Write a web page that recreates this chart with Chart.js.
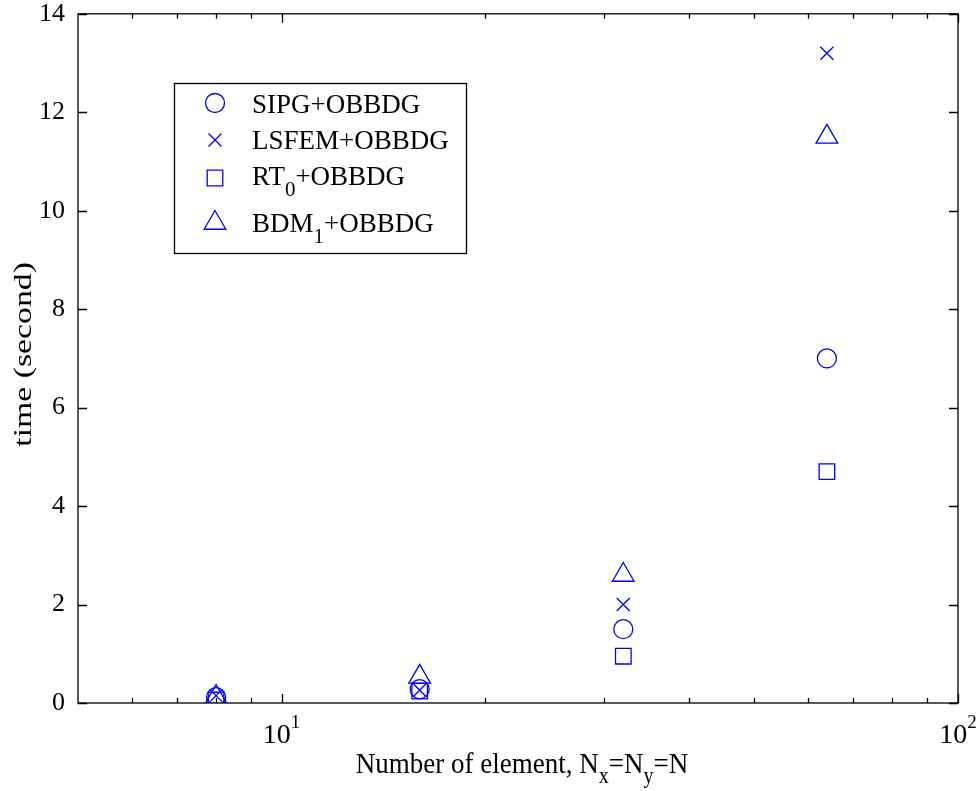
<!DOCTYPE html>
<html lang="en">
  <head>
    <meta charset="UTF-8" />
    <title>time vs number of element</title>
    <script src="https://cdn.jsdelivr.net/npm/chart.js"></script>
    <style>
      body {
        margin: 0;
        background: #ffffff;
      }
      #wrap {
        width: 978px;
        height: 791px;
      }
    </style>
  </head>
  <body>
    <div id="wrap"><canvas id="timeChart" width="978" height="791"></canvas></div>

    <script>
      // data
      const nElem = [8, 16, 32, 64];
      const sipg = [0.12, 0.28, 1.5, 7.0];
      const lsfem = [0.15, 0.26, 2.0, 13.2];
      const rt0 = [0.06, 0.24, 0.95, 4.7];
      const bdm1 = [0.12, 0.53, 2.6, 11.5];
      const yTicks = [0, 2, 4, 6, 8, 10, 12, 14];
      const xMajor = [10, 100];
      const xMinor = [6, 7, 8, 9, 20, 30, 40, 50, 60, 70, 80, 90];

      const FONT = "'Liberation Serif', 'DejaVu Serif', serif";
      const BLUE = "#0000ff";

      function pts(vals) {
        return nElem.map((n, i) => ({ x: n, y: vals[i] }));
      }

      const legendRows = [
        { main: "SIPG", sub: "", rest: "+OBBDG", ds: 0, my: 103, by: 113 },
        { main: "LSFEM", sub: "", rest: "+OBBDG", ds: 1, my: 140, by: 149 },
        { main: "RT", sub: "0", rest: "+OBBDG", ds: 2, my: 178, by: 185 },
        { main: "BDM", sub: "1", rest: "+OBBDG", ds: 3, my: 223, by: 232 },
      ];

      // text with sub/superscripts; parts: {t, size, dy}
      function richText(ctx, parts, x, y, sx, sy, measureOnly) {
        let cx = 0;
        ctx.save();
        ctx.translate(x, y);
        ctx.scale(sx, sy);
        parts.forEach((p) => {
          ctx.font = p.size + "px " + FONT;
          if (!measureOnly) ctx.fillText(p.t, cx, p.dy || 0);
          cx += ctx.measureText(p.t).width;
        });
        ctx.restore();
        return cx * sx;
      }

      const matlabBox = {
        id: "matlabBox",
        afterDraw(chart) {
          const ctx = chart.ctx;
          const a = chart.chartArea;
          const xs = chart.scales.x;
          const ys = chart.scales.y;
          ctx.save();
          ctx.strokeStyle = "#000";
          ctx.fillStyle = "#000";
          ctx.lineWidth = 1.3;
          ctx.strokeRect(a.left, a.top, a.right - a.left, a.bottom - a.top);

          ctx.beginPath();
          yTicks.forEach((v) => {
            const py = Math.round(ys.getPixelForValue(v)) + 0.5;
            ctx.moveTo(a.left, py);
            ctx.lineTo(a.left + 9, py);
            ctx.moveTo(a.right, py);
            ctx.lineTo(a.right - 9, py);
          });
          xMajor.forEach((v) => {
            const px = Math.round(xs.getPixelForValue(v)) + 0.5;
            ctx.moveTo(px, a.bottom);
            ctx.lineTo(px, a.bottom - 9);
            ctx.moveTo(px, a.top);
            ctx.lineTo(px, a.top + 9);
          });
          xMinor.forEach((v) => {
            const px = Math.round(xs.getPixelForValue(v)) + 0.5;
            ctx.moveTo(px, a.bottom);
            ctx.lineTo(px, a.bottom - 5);
            ctx.moveTo(px, a.top);
            ctx.lineTo(px, a.top + 5);
          });
          ctx.stroke();

          ctx.textAlign = "left";
          ctx.textBaseline = "alphabetic";

          // x tick labels 10^1, 10^2
          xMajor.forEach((v) => {
            const exp = String(Math.round(Math.log10(v)));
            const parts = [
              { t: "10", size: 28 },
              { t: exp, size: 19, dy: -15 },
            ];
            const w = richText(ctx, parts, 0, 0, 1, 1, true);
            const px = xs.getPixelForValue(v);
            richText(ctx, parts, px - w / 2, 743, 1, 1, false);
          });

          // x axis title
          const title = [
            { t: "Number of element, N", size: 27 },
            { t: "x", size: 20, dy: 9 },
            { t: "=N", size: 27 },
            { t: "y", size: 20, dy: 9 },
            { t: "=N", size: 27 },
          ];
          const tw = richText(ctx, title, 0, 0, 1, 1.12, true);
          richText(ctx, title, (a.left + a.right) / 2 - tw / 2 + 4, 773, 1, 1.12, false);

          // y axis title, stretched along its length like the original
          ctx.save();
          ctx.translate(24, (a.top + a.bottom) / 2 - 4);
          ctx.rotate(-Math.PI / 2);
          ctx.scale(1.35, 1);
          ctx.font = "25px " + FONT;
          ctx.textAlign = "center";
          ctx.textBaseline = "middle";
          ctx.fillText("time (second)", 0, 0);
          ctx.restore();

          // legend
          const lx = 174, ly = 83, lw = 292, lh = 170;
          ctx.fillStyle = "#fff";
          ctx.fillRect(lx, ly, lw, lh);
          ctx.strokeStyle = "#000";
          ctx.lineWidth = 1.3;
          ctx.strokeRect(lx + 0.5, ly + 0.5, lw, lh);
          legendRows.forEach((r) => {
            const ds = chart.data.datasets[r.ds];
            ctx.fillStyle = "rgba(0,0,0,0)";
            ctx.strokeStyle = BLUE;
            ctx.lineWidth = ds.pointBorderWidth;
            Chart.helpers.drawPoint(
              ctx,
              {
                pointStyle: ds.pointStyle,
                radius: ds.pointRadius,
                borderWidth: ds.pointBorderWidth,
              },
              215,
              r.my
            );
            ctx.fillStyle = "#000";
            const parts = [{ t: r.main, size: 27 }];
            if (r.sub) parts.push({ t: r.sub, size: 21, dy: 11 });
            parts.push({ t: r.rest, size: 27 });
            richText(ctx, parts, 252, r.by, 1, 1, false);
          });
          ctx.restore();
        },
      };

      function series(label, vals, style, r) {
        return {
          label: label,
          data: pts(vals),
          showLine: false,
          pointStyle: style,
          pointRadius: r,
          pointHoverRadius: r,
          pointBorderWidth: 1.3,
          borderColor: BLUE,
          backgroundColor: "rgba(0,0,0,0)",
        };
      }

      new Chart(document.getElementById("timeChart"), {
        type: "scatter",
        data: {
          datasets: [
            series("SIPG+OBBDG", sipg, "circle", 9.5),
            series("LSFEM+OBBDG", lsfem, "crossRot", 9.2),
            series("RT0+OBBDG", rt0, "rect", 11),
            series("BDM1+OBBDG", bdm1, "triangle", 12.5),
          ],
        },
        options: {
          responsive: false,
          devicePixelRatio: 1,
          animation: false,
          layout: { padding: { top: 10, right: 20, left: 0, bottom: 0 } },
          plugins: {
            legend: { display: false },
            tooltip: { enabled: false },
          },
          scales: {
            x: {
              type: "logarithmic",
              min: 5,
              max: 100,
              ticks: { display: false },
              grid: { display: false },
              border: { display: false },
              afterFit(s) {
                s.height = 88;
                s.paddingLeft = 0;
                s.paddingRight = 0;
              },
            },
            y: {
              min: 0,
              max: 14,
              ticks: {
                stepSize: 2,
                color: "#000",
                padding: 5,
                font: { family: FONT, size: 26 },
              },
              grid: { display: false },
              border: { display: false },
              afterFit(s) {
                s.width = 78;
                s.paddingTop = 0;
                s.paddingBottom = 0;
              },
            },
          },
        },
        plugins: [matlabBox],
      });
    </script>
  </body>
</html>
